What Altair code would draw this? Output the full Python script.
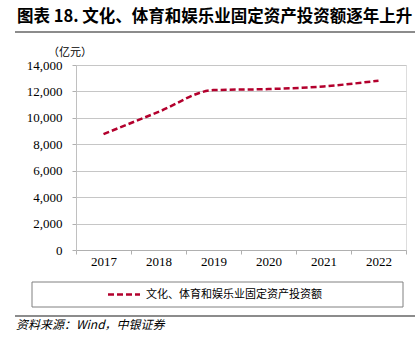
import altair as alt
import pandas as pd

years = ["2017", "2018", "2019", "2020", "2021", "2022"]
values = [8770, 10450, 12100, 12180, 12380, 12810]
series_name = "文化、体育和娱乐业固定资产投资额"
title_text = "图表 18. 文化、体育和娱乐业固定资产投资额逐年上升"
unit_text = "（亿元）"
source_text = "资料来源：Wind，中银证券"
y_ticks = [0, 2000, 4000, 6000, 8000, 10000, 12000, 14000]

RED = "#B3002D"
GRID = "#c6c6c6"
CJK = "Noto Sans CJK SC"
SERIF = "Liberation Serif"

df = pd.DataFrame({"year": years, "value": values})
one = pd.DataFrame({"a": [0]})

line = alt.Chart(df).mark_line(
    color=RED, strokeDash=[6, 3], strokeWidth=2.5, interpolate="monotone"
).encode(
    x=alt.X("year:N", sort=years,
            scale=alt.Scale(type="band", paddingInner=0, paddingOuter=0),
            axis=alt.Axis(title=None, labelAngle=0, tickBand="extent", grid=False,
                          domainColor="#b0b0b0", tickColor="#b0b0b0", tickSize=4,
                          labelPadding=1, labelFont=SERIF, labelFontSize=13,
                          labelColor="#000")),
    y=alt.Y("value:Q", scale=alt.Scale(domain=[0, 14000], nice=False),
            axis=alt.Axis(title=None, values=y_ticks, format=",.0f", grid=True,
                          gridColor=GRID, domainColor="#c0c0c0", tickColor="#b0b0b0",
                          tickSize=4, labelPadding=10, labelFont=SERIF,
                          labelFontSize=13, labelColor="#000")),
)

title = alt.Chart(one).mark_text(
    text=title_text, font=CJK, fontSize=16.5, fontWeight="bold", align="left",
    baseline="middle", color="#000"
).encode(x=alt.value(-59), y=alt.value(-48))

top_rule = alt.Chart(one).mark_rule(color="#8c8c8c", strokeWidth=2).encode(
    x=alt.value(-61), x2=alt.value(339), y=alt.value(-33))

unit = alt.Chart(one).mark_text(
    text=unit_text, font=CJK, fontSize=11, align="left", baseline="middle", color="#000"
).encode(x=alt.value(-28), y=alt.value(-12))

legend_box = alt.Chart(one).mark_rect(
    fillOpacity=0, stroke="#808080", strokeWidth=1
).encode(x=alt.value(-44), x2=alt.value(327), y=alt.value(217), y2=alt.value(242))

legend_line = alt.Chart(one).mark_rule(
    color=RED, strokeDash=[6, 3], strokeWidth=2.5
).encode(x=alt.value(32), x2=alt.value(64), y=alt.value(229.5))

legend_text = alt.Chart(one).mark_text(
    text=series_name, font=CJK, fontSize=11, align="left", baseline="middle", color="#000"
).encode(x=alt.value(70), y=alt.value(230))

bottom_rule = alt.Chart(one).mark_rule(color="#8c8c8c", strokeWidth=2).encode(
    x=alt.value(-61), x2=alt.value(339), y=alt.value(251))

source = alt.Chart(one).mark_text(
    text=source_text, font=CJK, fontSize=12, fontStyle="italic", align="left",
    baseline="middle", color="#000"
).encode(x=alt.value(-60), y=alt.value(260))

chart = alt.layer(
    line, title, top_rule, unit, legend_box, legend_line, legend_text, bottom_rule, source
).properties(
    width=330, height=185,
    autosize=alt.AutoSizeParams(type="none"),
    padding={"left": 76, "top": 65, "right": 9, "bottom": 98},
).configure_view(stroke=None).configure(background="white")

chart.save("out.html", embed_options={"renderer": "svg", "actions": False})
